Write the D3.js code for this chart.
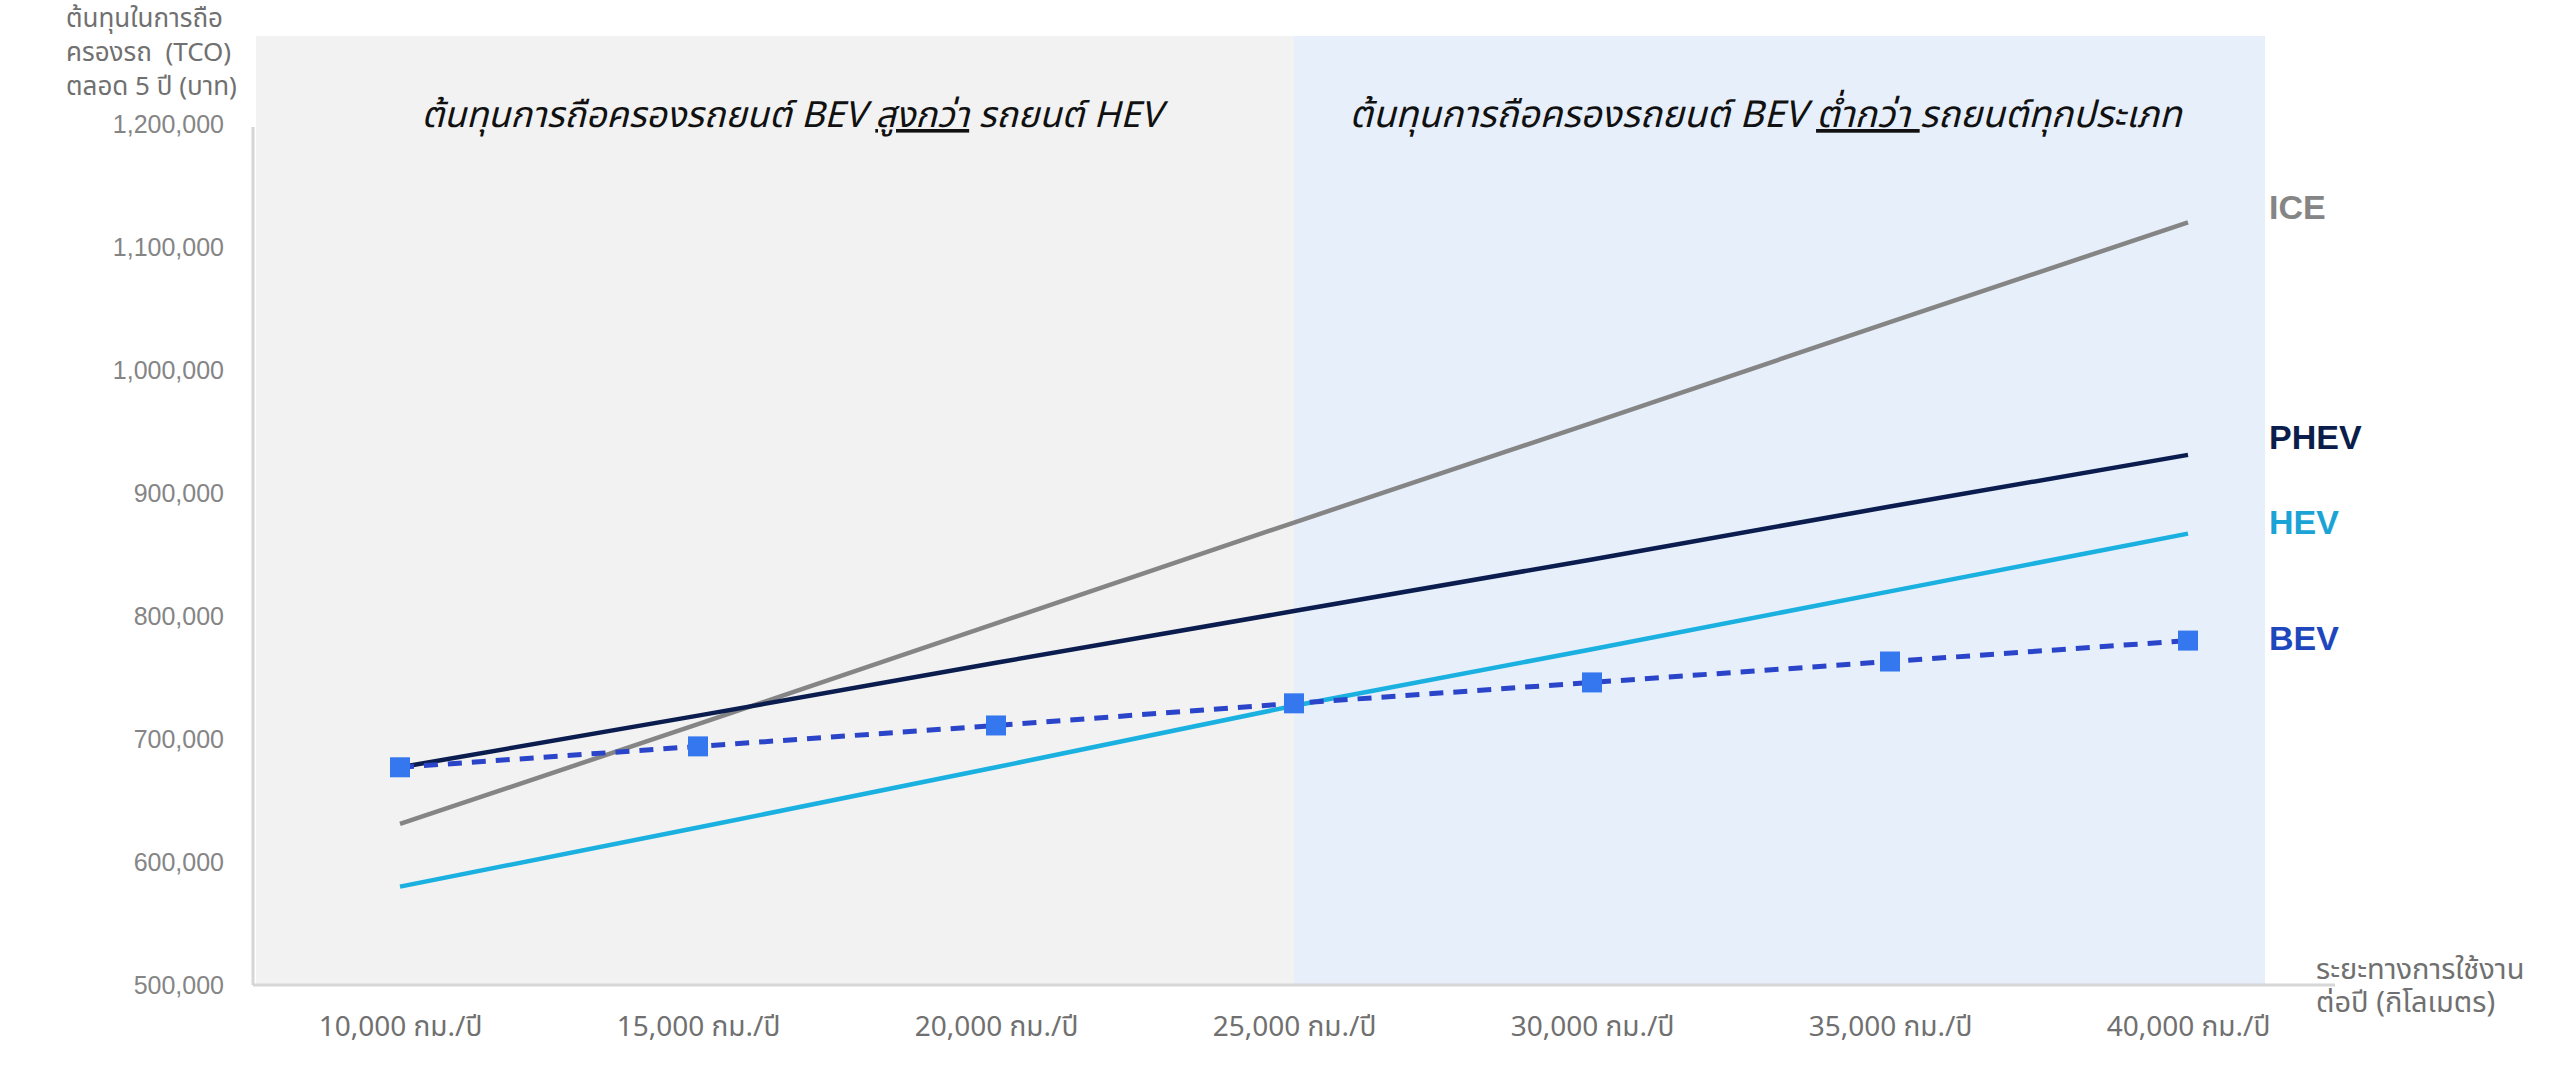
<!DOCTYPE html>
<html>
<head>
<meta charset="utf-8">
<script src="https://cdn.jsdelivr.net/npm/d3@7"></script>
<style>
  body { margin: 0; background: #fff; }
  text { font-family: "Noto Sans Thai", "Noto Sans", "Liberation Sans", sans-serif; }
</style>
</head>
<body>
<div id="root"></div>
<script>
const width = 2560
const height = 1082

// data
const distances = [10000, 15000, 20000, 25000, 30000, 35000, 40000]
const tickLabels = ['10,000 กม./ปี', '15,000 กม./ปี', '20,000 กม./ปี', '25,000 กม./ปี', '30,000 กม./ปี', '35,000 กม./ปี', '40,000 กม./ปี']
const iceValues = [631000, 712000, 794000, 876000, 957000, 1039000, 1120000]
const phevValues = [677000, 719000, 762000, 804000, 846000, 889000, 931000]
const hevValues = [580000, 628000, 677000, 727000, 773000, 820000, 867000]
const bevValues = [677000, 694000, 711000, 729000, 746000, 763000, 780000]
const yTicks = [500000, 600000, 700000, 800000, 900000, 1000000, 1100000, 1200000]
const seriesNames = ['ICE', 'PHEV', 'HEV', 'BEV']
const splitAt = 25000

const svg = d3.select('#root').append('svg')
  .attr('width', width)
  .attr('height', height)

const plotLeft = 253
const plotRight = 2265
const plotTop = 36
const plotBottom = 985

const x = d3.scaleLinear()
  .domain([10000, 40000])
  .range([400, 2188])

const y = d3.scaleLinear()
  .domain([500000, 1200000])
  .range([985, 124])

// background bands
svg.append('rect')
  .attr('x', plotLeft + 3)
  .attr('y', plotTop)
  .attr('width', x(splitAt) - plotLeft - 3)
  .attr('height', plotBottom - plotTop)
  .style('fill', '#f2f2f2')

svg.append('rect')
  .attr('x', x(splitAt))
  .attr('y', plotTop)
  .attr('width', plotRight - x(splitAt))
  .attr('height', plotBottom - plotTop)
  .style('fill', '#e7effb')

// axes lines
svg.append('line')
  .attr('x1', plotLeft).attr('x2', plotLeft)
  .attr('y1', 127).attr('y2', plotBottom)
  .style('stroke', '#d6d6d6')
  .style('stroke-width', 3)

svg.append('line')
  .attr('x1', plotLeft).attr('x2', 2335)
  .attr('y1', plotBottom).attr('y2', plotBottom)
  .style('stroke', '#d6d6d6')
  .style('stroke-width', 3)

// y axis
const yAxis = d3.axisLeft(y)
  .tickValues(yTicks)
  .tickSize(0)
  .tickPadding(0)
  .tickFormat(d3.format(','))

const gy = svg.append('g')
  .attr('transform', 'translate(224,0)')
  .call(yAxis)
gy.select('.domain').remove()
gy.selectAll('text')
  .style('font-family', '"Liberation Sans", sans-serif')
  .style('font-size', '25px')
  .style('fill', '#858585')

// x axis
const xAxis = d3.axisBottom(x)
  .tickValues(distances)
  .tickSize(0)
  .tickPadding(0)
  .tickFormat((d, i) => tickLabels[i])

const gx = svg.append('g')
  .attr('transform', 'translate(0,1016)')
  .call(xAxis)
gx.select('.domain').remove()
gx.selectAll('text')
  .style('font-size', '28px')
  .style('fill', '#707070')

// axis titles
const yTitle = ['ต้นทุนในการถือ', 'ครองรถ  (TCO)', 'ตลอด 5 ปี (บาท)']
svg.append('text')
  .attr('x', 66)
  .attr('y', 27)
  .style('font-size', '26px')
  .style('fill', '#707070')
  .style('white-space', 'pre')
  .selectAll('tspan')
  .data(yTitle)
  .enter().append('tspan')
  .attr('x', 66)
  .attr('dy', (d, i) => i === 0 ? 0 : 34)
  .text(d => d)

const xTitle = ['ระยะทางการใช้งาน', 'ต่อปี (กิโลเมตร)']
svg.append('text')
  .attr('x', 2316)
  .attr('y', 979)
  .style('font-size', '29px')
  .style('fill', '#707070')
  .selectAll('tspan')
  .data(xTitle)
  .enter().append('tspan')
  .attr('x', 2316)
  .attr('dy', (d, i) => i === 0 ? 0 : 33)
  .text(d => d)

// band headers
const header1 = svg.append('text')
  .attr('x', (plotLeft + x(splitAt)) / 2 + 18)
  .attr('y', 127)
  .attr('text-anchor', 'middle')
  .style('font-size', '36px')
  .style('font-style', 'italic')
  .style('fill', '#111')
header1.append('tspan').text('ต้นทุนการถือครองรถยนต์ BEV ')
header1.append('tspan').style('text-decoration', 'underline').text('สูงกว่า')
header1.append('tspan').text(' รถยนต์ HEV')

const header2 = svg.append('text')
  .attr('x', (x(splitAt) + plotRight) / 2 - 14)
  .attr('y', 127)
  .attr('text-anchor', 'middle')
  .style('font-size', '37px')
  .style('font-style', 'italic')
  .style('fill', '#111')
  .style('white-space', 'pre')
header2.append('tspan').text('ต้นทุนการถือครองรถยนต์ BEV ')
header2.append('tspan').style('text-decoration', 'underline').text('ต่ำกว่า ')
header2.append('tspan').text('รถยนต์ทุกประเภท')

// lines
const series = [
  { name: seriesNames[0], values: iceValues, color: '#858585', width: 4.5, dash: null },
  { name: seriesNames[1], values: phevValues, color: '#0b1d4f', width: 4.5, dash: null },
  { name: seriesNames[2], values: hevValues, color: '#1ab0e0', width: 4.5, dash: null },
  { name: seriesNames[3], values: bevValues, color: '#2a45c9', width: 5, dash: '14,10' }
]

const line = d3.line()
  .x((d, i) => x(distances[i]))
  .y(d => y(d))

svg.selectAll('path.series')
  .data(series)
  .enter().append('path')
  .attr('class', 'series')
  .attr('d', d => line(d.values))
  .style('fill', 'none')
  .style('stroke', d => d.color)
  .style('stroke-width', d => d.width)
  .style('stroke-dasharray', d => d.dash)

// BEV markers
const mk = 20
svg.selectAll('rect.marker')
  .data(bevValues)
  .enter().append('rect')
  .attr('class', 'marker')
  .attr('x', (d, i) => x(distances[i]) - mk / 2)
  .attr('y', d => y(d) - mk / 2)
  .attr('width', mk)
  .attr('height', mk)
  .style('fill', '#3577ee')

// series labels
const labelColors = ['#858585', '#0b1d4a', '#1ba3d6', '#1f47bd']
const labelY = [219, 449, 534, 650]
svg.selectAll('text.label')
  .data(seriesNames)
  .enter().append('text')
  .attr('class', 'label')
  .attr('x', 2269)
  .attr('y', (d, i) => labelY[i])
  .text(d => d)
  .style('font-family', '"Liberation Sans", sans-serif')
  .style('font-size', '34px')
  .style('font-weight', 'bold')
  .style('fill', (d, i) => labelColors[i])
</script>
</body>
</html>
